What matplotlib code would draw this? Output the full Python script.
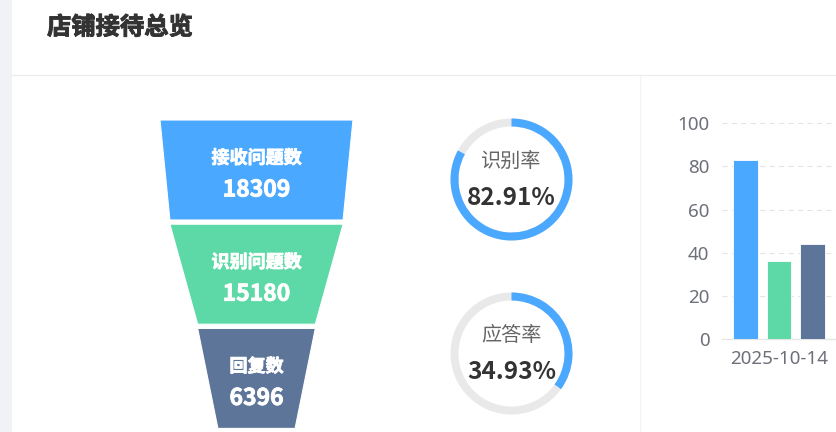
import matplotlib
matplotlib.use("Agg")
import matplotlib.pyplot as plt
from matplotlib.patches import Polygon, Rectangle, Wedge
import matplotlib.patheffects as pe
import numpy as np

plt.rcParams['font.family'] = ['Noto Sans CJK SC', 'DejaVu Sans']

# ---------------- data ----------------
title = "店铺接待总览"
funnel_names = ["接收问题数", "识别问题数", "回复数"]
funnel_values = [18309, 15180, 6396]
funnel_colors = ["#4ba8ff", "#5cd9a6", "#5d7599"]

gauge_names = ["识别率", "应答率"]
gauge_values = [82.91, 34.93]

bar_category = ["2025-10-14"]
bar_values = [82.9, 36.2, 44.0]
bar_colors = ["#4ba8ff", "#5cd9a6", "#5d7599"]
y_ticks = [0, 20, 40, 60, 80, 100]

# ---------------- figure ----------------
W, H = 837, 432
fig = plt.figure(figsize=(W / 100, H / 100), dpi=100)
fig.patch.set_facecolor("white")
ax = fig.add_axes([0, 0, 1, 1])
ax.set_xlim(0, W)
ax.set_ylim(H, 0)
ax.axis("off")

# page background strip and separators
ax.add_patch(Rectangle((0, 0), 12, H, color="#f0f2f5", lw=0))
ax.plot([12, W], [74.5, 74.5], color="#ebebeb", lw=0.8)
ax.plot([640.5, 640.5], [75, H], color="#f3f3f3", lw=0.8)

ax.text(47, 27.5, title, fontsize=17.5, fontweight="bold", color="#333333",
        va="center", ha="left",
        path_effects=[pe.withStroke(linewidth=0.7, foreground="#333333")])

# ---------------- funnel ----------------
fx, ftop, seg_h, gap, max_w, min_size = 256.5, 120.0, 100.0, 4.2, 193.0, 0.4
vmax = max(funnel_values)


def fwidth(v):
    return max_w * (min_size + (1 - min_size) * v / vmax)


y = ftop
for i, (name, val, col) in enumerate(zip(funnel_names, funnel_values, funnel_colors)):
    nxt = funnel_values[i + 1] if i + 1 < len(funnel_values) else 0
    w1, w2 = fwidth(val), fwidth(nxt)
    pts = [(fx - w1 / 2, y), (fx + w1 / 2, y), (fx + w2 / 2, y + seg_h), (fx - w2 / 2, y + seg_h)]
    ax.add_patch(Polygon(pts, closed=True, facecolor=col, edgecolor="white", lw=0.8))
    cy = y + seg_h / 2
    stroke = [pe.withStroke(linewidth=0.6, foreground="white")]
    ax.text(fx, cy - 12, name, color="white", fontsize=13, fontweight="bold",
            ha="center", va="center", path_effects=stroke)
    ax.text(fx, cy + 20, f"{val}", color="white", fontsize=16.5, fontweight="bold",
            ha="center", va="center", path_effects=stroke)
    y += seg_h + gap

# ---------------- gauges ----------------
gcx, gcy_list, r_out, ring = 511.5, [179.5, 353.5], 61.0, 8.0
for name, val, gcy in zip(gauge_names, gauge_values, gcy_list):
    ax.add_patch(Wedge((gcx, gcy), r_out, 0, 360, width=ring, facecolor="#e9e9e9", lw=0))
    ax.add_patch(Wedge((gcx, gcy), r_out, -90, -90 + 360 * val / 100, width=ring,
                       facecolor="#4ba8ff", lw=0))
    ax.text(gcx, gcy - 18, name, color="#666666", fontsize=14.5, ha="center", va="center")
    ax.text(gcx, gcy + 18.5, f"{val:.2f}%", color="#333333", fontsize=17.5,
            fontweight="bold", ha="center", va="center")

# ---------------- bar chart ----------------
left, right, y0, y100 = 722, 836, 339, 123.3
bax = fig.add_axes([left / W, (H - y0) / H, (right - left) / W, (y0 - y100) / H])
bax.set_xlim(-0.5, 0.5)
bax.set_ylim(0, 100)
n = len(bar_values)
offs = (np.arange(n) - (n - 1) / 2) * 0.291
bax.bar(offs, bar_values, width=0.219, color=bar_colors, edgecolor="#ffffff", lw=0.6, zorder=3)
bax.set_yticks(y_ticks)
bax.set_yticklabels([str(t) for t in y_ticks])
bax.set_xticks([0])
bax.set_xticklabels(bar_category)
for t in y_ticks[1:]:
    bax.axhline(t, color="#e3e3e3", lw=0.8, dashes=(4.5, 4), zorder=1)
for s in ["top", "right", "left"]:
    bax.spines[s].set_visible(False)
bax.spines["bottom"].set_color("#e6e6e6")
bax.spines["bottom"].set_linewidth(1.0)
bax.tick_params(axis="both", length=0, colors="#6e7079", labelsize=13.5)
bax.tick_params(axis="y", pad=9)
bax.tick_params(axis="x", pad=8)
for lab in bax.get_xticklabels() + bax.get_yticklabels():
    lab.set_family(["Noto Sans", "DejaVu Sans"])
bax.set_facecolor("none")

fig.savefig("out.png", dpi=100, facecolor="white")
